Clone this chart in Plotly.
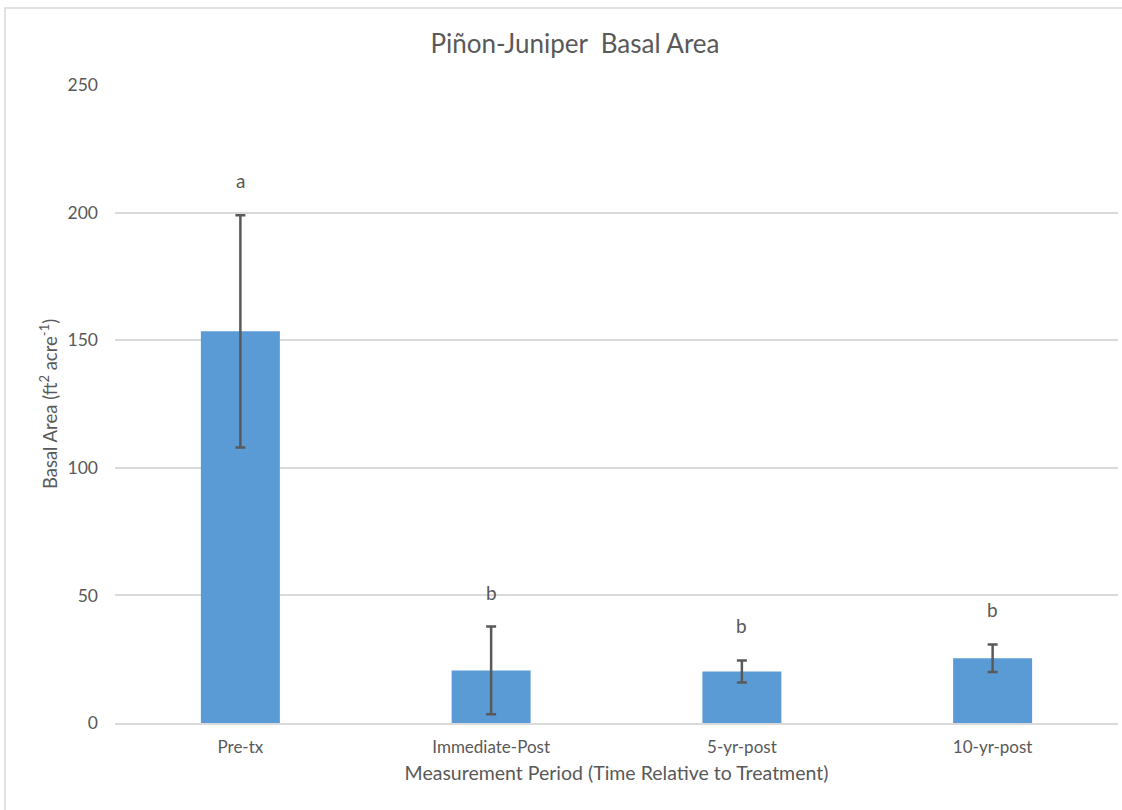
import plotly.graph_objects as go

# Basal area by measurement period
periods = ["Pre-tx", "Immediate-Post", "5-yr-post", "10-yr-post"]
basal_area = [153.5, 20.6, 20.2, 25.4]
std_err = [45.5, 17.2, 4.3, 5.4]
groups = ["a", "b", "b", "b"]

W, H = 1122, 810
ML, MR, MT, MB = 115, 4, 85, 87
plot_w = W - ML - MR
plot_h = H - MT - MB

FONT = "Lato"
GREY = "#595959"

fig = go.Figure()
fig.add_trace(go.Bar(
    x=periods,
    y=basal_area,
    width=0.315,
    marker=dict(color="#5b9bd5", line=dict(width=0)),
    error_y=dict(type="data", array=std_err, visible=True,
                 color="#595959", thickness=2.5, width=5),
    hoverinfo="x+y",
))

# significance letters sit just above each error bar
for p, v, e, g in zip(periods, basal_area, std_err, groups):
    fig.add_annotation(x=p, y=v + e, text=g, showarrow=False,
                       yanchor="bottom", yshift=21,
                       font=dict(family=FONT, size=19, color=GREY))

# light chart-area frame
px2x = lambda px: (px - ML) / plot_w
px2y = lambda py: (H - MB - py) / plot_h
fig.add_shape(type="rect", xref="paper", yref="paper",
              x0=px2x(5), x1=px2x(W + 5), y0=px2y(H + 5), y1=px2y(8),
              line=dict(color="#d9d9d9", width=1.5), fillcolor="rgba(0,0,0,0)",
              layer="below")

fig.update_layout(
    width=W, height=H,
    margin=dict(l=ML, r=MR, t=MT, b=MB),
    paper_bgcolor="white", plot_bgcolor="white",
    showlegend=False,
    font=dict(family=FONT, color=GREY),
    title=dict(text="Piñon-Juniper  Basal Area", x=575 / W, xanchor="center",
               y=1 - 44 / H, yanchor="middle",
               font=dict(family=FONT, size=26, color=GREY)),
    xaxis=dict(
        title=dict(text="Measurement Period (Time Relative to Treatment)",
                   font=dict(family=FONT, size=19.5, color=GREY), standoff=10),
        tickfont=dict(family=FONT, size=17, color=GREY),
        showline=True, linecolor="#d9d9d9", linewidth=1.5,
        ticks="", showgrid=False, ticklabelstandoff=8,
    ),
    yaxis=dict(
        title=dict(text="Basal Area (ft<sup>2</sup> acre<sup>-1</sup>)",
                   font=dict(family=FONT, size=18.5, color=GREY), standoff=5),
        tickfont=dict(family=FONT, size=17.5, color=GREY),
        range=[0, 250], tick0=0, dtick=50,
        showgrid=True, gridcolor="#d9d9d9", gridwidth=1.5,
        zeroline=False, showline=False, ticks="", ticklabelstandoff=16,
    ),
)

fig.write_html("out.html")
